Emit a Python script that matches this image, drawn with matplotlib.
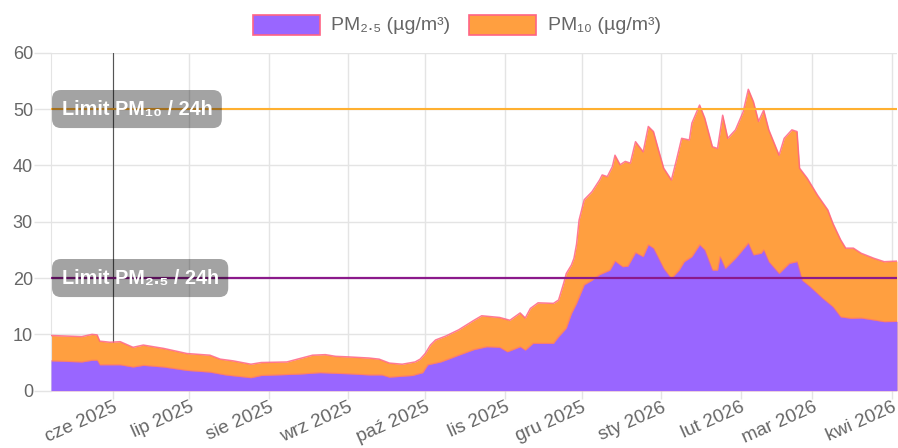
import numpy as np
import matplotlib
matplotlib.use("Agg")
import matplotlib.pyplot as plt
from matplotlib.patches import Rectangle

# ---------------- data ----------------
pm10_dates = ["2025-05-08", "2025-05-14", "2025-05-20", "2025-05-24", "2025-05-26", "2025-05-27",
              "2025-05-31", "2025-06-04", "2025-06-09", "2025-06-13", "2025-06-21", "2025-06-30",
              "2025-07-09", "2025-07-13", "2025-07-18", "2025-07-25", "2025-07-29", "2025-08-08",
              "2025-08-13", "2025-08-18", "2025-08-23", "2025-08-27", "2025-09-01", "2025-09-09",
              "2025-09-13", "2025-09-17", "2025-09-22", "2025-09-27", "2025-09-29", "2025-10-01",
              "2025-10-03", "2025-10-05", "2025-10-09", "2025-10-14", "2025-10-20", "2025-10-23",
              "2025-10-30", "2025-11-03", "2025-11-07", "2025-11-09", "2025-11-11", "2025-11-14",
              "2025-11-20", "2025-11-22", "2025-11-24", "2025-11-25", "2025-11-27", "2025-11-28",
              "2025-11-29", "2025-11-30", "2025-12-02", "2025-12-05", "2025-12-08", "2025-12-09",
              "2025-12-11", "2025-12-13", "2025-12-14", "2025-12-16", "2025-12-18", "2025-12-20",
              "2025-12-22", "2025-12-25", "2025-12-27", "2025-12-29", "2025-12-31", "2026-01-02",
              "2026-01-05", "2026-01-07", "2026-01-09", "2026-01-12", "2026-01-13", "2026-01-16",
              "2026-01-18", "2026-01-21", "2026-01-23", "2026-01-25", "2026-01-27", "2026-01-30",
              "2026-02-02", "2026-02-04", "2026-02-06", "2026-02-08", "2026-02-10", "2026-02-12",
              "2026-02-16", "2026-02-18", "2026-02-21", "2026-02-23", "2026-02-24", "2026-02-27",
              "2026-03-03", "2026-03-07", "2026-03-09", "2026-03-12", "2026-03-14", "2026-03-17",
              "2026-03-20", "2026-03-25", "2026-03-29", "2026-04-03"]
pm10_values = [9.8, 9.7, 9.6, 10.0, 9.9, 8.8,
               8.6, 8.7, 7.7, 8.1, 7.5, 6.6,
               6.3, 5.6, 5.3, 4.7, 5.0, 5.1,
               5.7, 6.3, 6.4, 6.1, 6.0, 5.8,
               5.6, 4.9, 4.7, 5.1, 5.6, 6.6,
               8.1, 9.0, 9.7, 10.8, 12.5, 13.3,
               13.0, 12.5, 13.8, 12.9, 14.6, 15.6,
               15.5, 16.1, 19.1, 20.8, 22.3, 23.5,
               26.0, 30.3, 33.9, 35.3, 37.4, 38.3,
               38.0, 39.8, 41.8, 40.1, 40.7, 40.4,
               44.2, 42.4, 46.9, 46.0, 42.7, 39.5,
               37.4, 41.0, 44.8, 44.5, 47.5, 50.7,
               48.4, 43.3, 43.0, 48.9, 44.8, 46.3,
               49.5, 53.5, 51.3, 47.8, 49.8, 46.3,
               41.8, 44.8, 46.3, 46.0, 39.5, 37.7,
               34.7, 32.1, 29.7, 26.8, 25.3, 25.3,
               24.4, 23.5, 22.9, 23.0]

pm25_dates = ["2025-05-08", "2025-05-20", "2025-05-24", "2025-05-26", "2025-05-27", "2025-06-04",
              "2025-06-09", "2025-06-13", "2025-06-21", "2025-06-30", "2025-07-09", "2025-07-15",
              "2025-07-25", "2025-07-29", "2025-08-13", "2025-08-21", "2025-08-26", "2025-09-01",
              "2025-09-09", "2025-09-14", "2025-09-17", "2025-09-26", "2025-09-30", "2025-10-02",
              "2025-10-07", "2025-10-10", "2025-10-14", "2025-10-20", "2025-10-25", "2025-10-30",
              "2025-11-02", "2025-11-07", "2025-11-09", "2025-11-12", "2025-11-20", "2025-11-22",
              "2025-11-25", "2025-11-27", "2025-11-29", "2025-12-02", "2025-12-05", "2025-12-08",
              "2025-12-12", "2025-12-14", "2025-12-17", "2025-12-19", "2025-12-22", "2025-12-25",
              "2025-12-27", "2025-12-29", "2026-01-02", "2026-01-05", "2026-01-08", "2026-01-10",
              "2026-01-13", "2026-01-16", "2026-01-18", "2026-01-21", "2026-01-23", "2026-01-24",
              "2026-01-26", "2026-01-30", "2026-02-04", "2026-02-06", "2026-02-09", "2026-02-10",
              "2026-02-12", "2026-02-16", "2026-02-20", "2026-02-23", "2026-02-25", "2026-02-28",
              "2026-03-05", "2026-03-09", "2026-03-12", "2026-03-16", "2026-03-20", "2026-03-25",
              "2026-03-29", "2026-04-03"]
pm25_values = [5.3, 5.1, 5.4, 5.4, 4.6, 4.6,
               4.2, 4.5, 4.2, 3.6, 3.3, 2.8,
               2.3, 2.7, 2.95, 3.2, 3.1, 3.0,
               2.8, 2.8, 2.4, 2.7, 3.2, 4.6,
               5.1, 5.6, 6.3, 7.3, 7.8, 7.7,
               6.9, 7.8, 7.2, 8.4, 8.4, 9.6,
               11.1, 13.7, 15.5, 18.8, 19.6, 20.6,
               21.4, 23.0, 22.0, 22.1, 24.5, 23.8,
               25.9, 25.3, 21.7, 19.9, 21.4, 22.9,
               23.8, 25.9, 25.0, 21.4, 21.4, 23.8,
               21.7, 23.5, 26.2, 24.1, 24.4, 25.0,
               22.9, 20.8, 22.6, 22.9, 19.6, 18.5,
               16.4, 14.9, 13.1, 12.85, 12.9, 12.55,
               12.25, 12.3]

month_ticks = ["2025-06-01", "2025-07-01", "2025-08-01", "2025-09-01", "2025-10-01", "2025-11-01",
               "2025-12-01", "2026-01-01", "2026-02-01", "2026-03-01", "2026-04-01"]
month_labels = ["cze 2025", "lip 2025", "sie 2025", "wrz 2025", "paź 2025", "lis 2025",
                "gru 2025", "sty 2026", "lut 2026", "mar 2026", "kwi 2026"]
y_ticks = [0, 10, 20, 30, 40, 50, 60]

limit_pm10 = 50
limit_pm25 = 20
limit_pm10_label = "Limit PM₁₀ / 24h"
limit_pm25_label = "Limit PM₂.₅ / 24h"
legend_labels = ["PM₂.₅ (µg/m³)", "PM₁₀ (µg/m³)"]

# ---------------- style ----------------
FAM = ["Liberation Sans", "DejaVu Sans"]
plt.rcParams["font.family"] = FAM
C_PM25 = "#9966FF"
C_PM10 = "#FF9F40"
C_EDGE = "#FF6384"
C_TXT = "#666666"
C_GRID = "#e4e4e4"

W, H = 898, 448
fig = plt.figure(figsize=(W / 100, H / 100), dpi=100)
left, right, top, bottom = 51, 897, 52.7, 390.7
ax = fig.add_axes([left / W, 1 - bottom / H, (right - left) / W, (bottom - top) / H])

d10 = np.array(pm10_dates, dtype="datetime64[D]")
d25 = np.array(pm25_dates, dtype="datetime64[D]")
v10 = np.array(pm10_values)
v25 = np.array(pm25_values)

ax.fill_between(d10, 0, v10, color=C_PM10, lw=0, zorder=2)
ax.plot(d10, v10, color=C_EDGE, lw=1.1, alpha=0.85, zorder=3)
ax.fill_between(d25, 0, v25, color=C_PM25, lw=0, zorder=4)
ax.plot(d25, v25, color=C_EDGE, lw=0.9, alpha=0.5, zorder=5)

ax.axhline(limit_pm10, color="#FFB030", lw=1.5, zorder=6)
ax.axhline(limit_pm25, color="#8B1A8B", lw=1.6, zorder=6)

xt = np.array(month_ticks, dtype="datetime64[D]")
ax.set_xlim(d10[0], d10[-1])
ax.set_ylim(0, 60)
ax.set_yticks(y_ticks)
ax.set_xticks(xt)
ax.set_xticklabels(month_labels, rotation=24, ha="right", rotation_mode="anchor")
ax.grid(True, color=C_GRID, lw=1, zorder=0)
ax.set_axisbelow(True)
ax.axvline(xt[0], color="#555555", lw=0.8, zorder=1)

for s in ["top", "right", "bottom"]:
    ax.spines[s].set_visible(False)
ax.spines["left"].set_color(C_GRID)
ax.tick_params(axis="y", length=12, width=1, color=C_GRID, pad=1, labelsize=13, labelcolor=C_TXT)
ax.tick_params(axis="x", length=6, width=1, color=C_GRID, pad=0, labelsize=13.6, labelcolor=C_TXT)

# limit labels
box = dict(boxstyle="round,pad=0.48,rounding_size=0.45", fc=(0, 0, 0, 0.36), ec="none")
trans = ax.get_yaxis_transform()
ax.text(0.0125, limit_pm10, limit_pm10_label, transform=trans, color="white", fontsize=14.3,
        fontweight="bold", va="center", ha="left", bbox=box, zorder=8, family=FAM)
ax.text(0.0125, limit_pm25, limit_pm25_label, transform=trans, color="white", fontsize=14.3,
        fontweight="bold", va="center", ha="left", bbox=box, zorder=8, family=FAM)

# legend (manual, Chart.js style)
def px(x, y):
    return x / W, 1 - y / H

for (bx, tx), col, lab in zip([(253, 331), (469, 548)], [C_PM25, C_PM10], legend_labels):
    x0, y0 = px(bx, 35)
    r = Rectangle((x0, y0), 67 / W, 20 / H, transform=fig.transFigure, fc=col, ec=C_EDGE, lw=1.2)
    fig.add_artist(r)
    tx0, ty0 = px(tx, 25)
    fig.text(tx0, ty0, lab, color=C_TXT, fontsize=14, va="center", ha="left", family=FAM)

fig.savefig("out.png", dpi=100)
